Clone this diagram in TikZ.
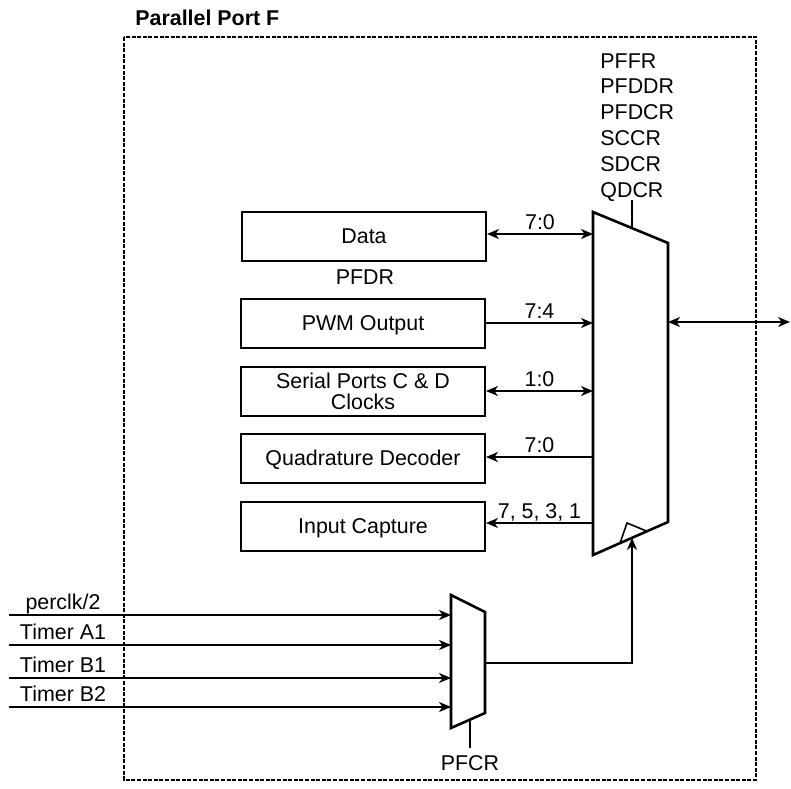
\documentclass[tikz,border=0pt]{standalone}
\usepackage{fontspec}
\setmainfont{Liberation Sans}
\usetikzlibrary{arrows.meta, positioning, calc}

\begin{document}
\begin{tikzpicture}[x=0.5pt, y=-0.5pt, font=\fontsize{10.7}{12.9}\selectfont,
    >={Stealth[length=6pt, width=5pt, inset=1.8pt]}]
    \tikzstyle{block} = [rectangle, draw, line width=1pt, minimum width=122pt, minimum height=24.5pt,
      inner sep=1pt, align=center, text depth=0pt]
    \tikzstyle{mux} = [draw, line width=1.3pt, line join=miter]
    \tikzstyle{bus} = [line width=0.8pt]
    \tikzstyle{buslabel} = [midway, anchor=base, yshift=2.2pt, inner sep=0pt]
    \tikzstyle{inlabel} = [anchor=base, yshift=2.7pt, inner sep=0pt]

    \useasboundingbox (0,0) rectangle (791,788);

    % port outline
    \node (title) [anchor=west, inner sep=0pt, font=\fontsize{10.7}{12.9}\selectfont\bfseries] at (135,18) {Parallel Port F};
    \draw [line width=1pt, dash pattern=on 2pt off 0.8pt] (124,37) rectangle (756,780);

    % function blocks
    \node (data) [block] at (364,236) {Data};
    \node (pfdr) [inner sep=0pt] at (365,277) {PFDR};
    \node (pwm) [block] at (363,323) {PWM Output};
    \node (serial) [block, font=\fontsize{10.7}{10.5}\selectfont] at (363,391) {Serial Ports C \& D\\Clocks};
    \node (quad) [block] at (363,458) {Quadrature Decoder};
    \node (icap) [block] at (363,526) {Input Capture};

    % output multiplexer
    \coordinate (mA) at (593,212);
    \coordinate (mB) at (668,243);
    \coordinate (mC) at (668,522);
    \coordinate (mD) at (593,555);
    \draw [mux] (mA) -- (mB) -- (mC) -- (mD) -- cycle;
    \coordinate (msel) at ($(mA)!0.52!(mB)$);
    \coordinate (ck1) at ($(mD)!0.36!(mC)$);
    \coordinate (ck2) at ($(mD)!0.72!(mC)$);
    \coordinate (ckin) at ($(mD)!0.52!(mC)$);
    \draw [line width=0.8pt] (ck1) -- (627,523) -- (ck2);

    \node (regs) [anchor=north west, inner sep=0pt, align=left, font=\fontsize{10.7}{12.9}\selectfont] at (600,53)
      {PFFR\\PFDDR\\PFDCR\\SCCR\\SDCR\\QDCR};
    \draw [bus] (msel) -- (msel |- 0,200);

    % buses to the blocks
    \draw [bus, <->] (data.east |- 0,234) -- (mA |- 0,234) node[buslabel] {7:0};
    \draw [bus, ->] (pwm.east) -- (mA |- pwm.east) node[buslabel] {7:4};
    \draw [bus, <->] (serial.east) -- (mA |- serial.east) node[buslabel] {1:0};
    \draw [bus, <-] (quad.east |- 0,457) -- (mA |- 0,457) node[buslabel] {7:0};
    \draw [bus, <-] (icap.east |- 0,523) -- (mA |- 0,523) node[buslabel] {7, 5, 3, 1};

    % port pins
    \coordinate (pins) at (790,322);
    \draw [bus, <->] (mB |- pins) -- (pins);

    % clock select multiplexer
    \coordinate (sA) at (451,595);
    \coordinate (sB) at (485,612);
    \coordinate (sC) at (485,713);
    \coordinate (sD) at (451,728);
    \draw [mux] (sA) -- (sB) -- (sC) -- (sD) -- cycle;
    \coordinate (ssel) at ($(sD)!0.56!(sC)$);
    \node (pfcr) [inner sep=0pt] at (470,763) {PFCR};
    \draw [bus] (ssel) -- (ssel |- 0,748);
    \draw [bus, ->] (sB |- 0,663) -| (ckin);

    % clock inputs
    \foreach \name/\yy in {{perclk/2}/615, {Timer A1}/645, {Timer B1}/678, {Timer B2}/707} {
      \coordinate (in) at (9,\yy);
      \draw [bus, ->] (in) -- (sA |- in);
      \node [inlabel] at (63,\yy) {\name};
    }
\end{tikzpicture}
\end{document}
